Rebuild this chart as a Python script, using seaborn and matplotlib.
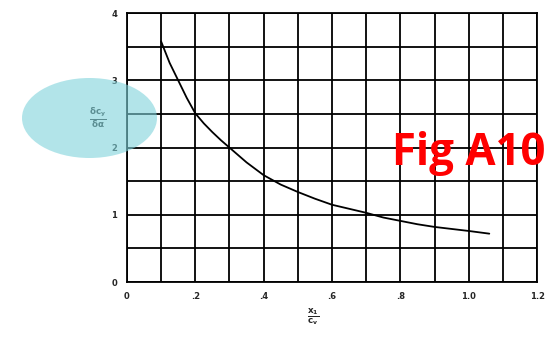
import numpy as np
import pandas as pd
import matplotlib
matplotlib.use("Agg")
import matplotlib.pyplot as plt
import seaborn as sns
from matplotlib.patches import Ellipse

# values
x_vals = [0.10, 0.125, 0.15, 0.175, 0.20, 0.225, 0.25, 0.275, 0.30, 0.35, 0.40,
          0.45, 0.50, 0.55, 0.60, 0.65, 0.70, 0.75, 0.80, 0.85, 0.90, 0.95,
          1.00, 1.06]
y_vals = [3.58, 3.26, 3.00, 2.74, 2.51, 2.36, 2.23, 2.11, 2.00, 1.78, 1.59,
          1.45, 1.34, 1.24, 1.15, 1.09, 1.03, 0.96, 0.91, 0.86, 0.82, 0.79,
          0.76, 0.72]

x_ticks = [0, 0.2, 0.4, 0.6, 0.8, 1.0, 1.2]
x_tick_labels = ["0", ".2", ".4", ".6", ".8", "1.0", "1.2"]
y_ticks = [0, 1, 2, 3, 4]
y_tick_labels = ["0", "1", "2", "3", "4"]

df = pd.DataFrame({"x": x_vals, "y": y_vals})

sns.set_style("white")
plt.rcParams["mathtext.default"] = "bf"
fig = plt.figure(figsize=(5.47, 3.37), dpi=100)
ax = fig.add_axes([0.232, 0.163, 0.75, 0.798])

sns.lineplot(data=df, x="x", y="y", color="black", linewidth=1.3, ax=ax)

ax.set_xlim(0, 1.2)
ax.set_ylim(0, 4)
ax.set_xticks(x_ticks)
ax.set_xticklabels(x_tick_labels, fontsize=6, fontweight="bold")
ax.set_yticks(y_ticks)
ax.set_yticklabels(y_tick_labels, fontsize=6, fontweight="bold")
ax.set_xticks(np.arange(0, 1.21, 0.1), minor=True)
ax.set_yticks(np.arange(0, 4.01, 0.5), minor=True)
ax.grid(which="both", color="black", linewidth=1.3)
ax.tick_params(axis="y", which="major", length=5, width=1.2, color="black", pad=2)
ax.tick_params(axis="x", which="major", length=0, pad=7)
ax.tick_params(which="minor", length=0)
for s in ax.spines.values():
    s.set_color("black")
    s.set_linewidth(1.3)

ax.set_xlabel(r"$\frac{x_1}{c_v}$", fontsize=9, labelpad=2)
ax.xaxis.set_label_coords(0.455, -0.09)
ax.set_ylabel(r"$\frac{\delta c_y}{\delta \alpha}$", fontsize=9, rotation=0,
              labelpad=8, va="center")
ax.yaxis.set_label_coords(-0.07, 0.61)

ell = Ellipse((89.5 / 547, 1 - 118 / 337), 135 / 547, 80 / 337,
              transform=fig.transFigure, color="#7fd3db", alpha=0.6,
              zorder=10, linewidth=0)
fig.patches.append(ell)

fig.text(0.716, 0.545, "Fig A10", color="#ff0000", fontsize=31.5,
         fontweight="bold", family="Open Sans", va="center", zorder=11)

fig.savefig("out.png", dpi=100)
